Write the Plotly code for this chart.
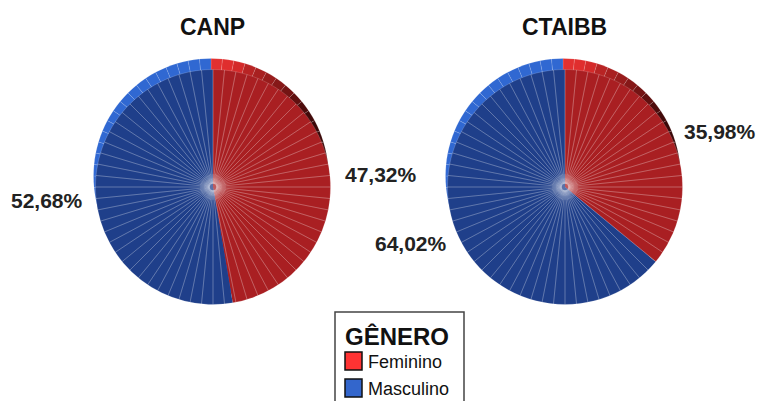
import plotly.graph_objects as go

# Data
charts = ["CANP", "CTAIBB"]
genders = ["Feminino", "Masculino"]
feminino = [47.32, 35.98]
masculino = [52.68, 64.02]

# Style
W, H = 758, 401
FONT = "Liberation Sans"
FACE_COLORS = ["#A91F22", "#1F3F8A"]
LEGEND_COLORS = ["#FF3333", "#3366CC"]
RIM_BLUE = "#3068D2"
RIM_RED = ["#E23030", "#E02E2E", "#D42A2A", "#B82424", "#A82020", "#981C1C", "#861818",
           "#741414", "#601010", "#4E0C0C", "#420A0A", "#3A0808"]
FACETS = 64
centers = [(213, 187), (565, 187)]
RADIUS = 117.5
RIM_SHIFT = (-2, -11)
GLOW_RADII = [5, 9, 13]
label_xy = [[(381, 174), (47, 200)], [(720, 131), (411, 244)]]
title_y = 27
legend_box = (335, 312, 464, 412)
legend_title_xy = (397, 336)
legend_rows = [(345, 352, 362, 370), (345, 379, 362, 397)]


def domain(cx, cy, r):
    return dict(x=[(cx - r) / W, (cx + r) / W], y=[1 - (cy + r) / H, 1 - (cy - r) / H])


def pct(v):
    return f"{v:.2f}".replace(".", ",") + "%"


def px_text(fig, x, y, text, size, color="#111111", anchor="center"):
    fig.add_annotation(x=x / W, y=1 - y / H, xref="paper", yref="paper", text=text, xanchor=anchor,
                       yanchor="middle", showarrow=False, font=dict(family=FONT, size=size, color=color))


def px_rect(fig, box, fill, line, width):
    x0, y0, x1, y1 = box
    fig.add_shape(type="rect", xref="paper", yref="paper", x0=x0 / W, x1=x1 / W, y0=1 - y0 / H, y1=1 - y1 / H,
                  fillcolor=fill, line=dict(color=line, width=width))


fig = go.Figure()
common = dict(sort=False, direction="clockwise", rotation=0, textinfo="none",
              hoverinfo="skip", showlegend=False)

for i, name in enumerate(charts):
    cx, cy = centers[i]
    n_red = round(feminino[i] / 100 * FACETS)
    rim_colors = [RIM_RED[min(k, len(RIM_RED) - 1)] for k in range(n_red)] + [RIM_BLUE] * (FACETS - n_red)
    fig.add_trace(go.Pie(values=[1] * FACETS, domain=domain(cx + RIM_SHIFT[0], cy + RIM_SHIFT[1], RADIUS),
                         marker=dict(colors=rim_colors, line=dict(color="rgba(255,255,255,0.22)", width=0.6)),
                         **common))
    fig.add_trace(go.Pie(labels=genders, values=[feminino[i], masculino[i]], domain=domain(cx, cy, RADIUS),
                         marker=dict(colors=FACE_COLORS, line=dict(width=0)), **common))
    fig.add_trace(go.Pie(values=[1] * FACETS, domain=domain(cx, cy, RADIUS), hole=0.03,
                         marker=dict(colors=["rgba(0,0,0,0)"] * FACETS,
                                     line=dict(color="rgba(255,255,255,0.27)", width=0.6)),
                         **common))
    # soft pale glow where the facets meet
    for r in GLOW_RADII:
        fig.add_trace(go.Pie(values=[1], domain=domain(cx, cy, r),
                             marker=dict(colors=["rgba(255,255,255,0.1)"], line=dict(width=0)), **common))
    px_text(fig, cx - 1, title_y, f"<b>{name}</b>", 23)
    for v, (lx, ly) in zip((feminino[i], masculino[i]), label_xy[i]):
        px_text(fig, lx, ly, f"<b>{pct(v)}</b>", 21, "#222222")

# legend drawn as a box, swatches and text
px_rect(fig, legend_box, "white", "#444444", 1.5)
px_text(fig, *legend_title_xy, "<b>GÊNERO</b>", 24)
for g, c, box in zip(genders, LEGEND_COLORS, legend_rows):
    px_rect(fig, box, c, "#111111", 1.5)
    px_text(fig, box[2] + 4, (box[1] + box[3]) / 2 + 1, g, 18, anchor="left")

fig.update_layout(
    width=W, height=H, margin=dict(l=0, r=0, t=0, b=0, autoexpand=False), paper_bgcolor="white",
    showlegend=False,
)
fig.write_html("out.html", config={"displayModeBar": False}, post_script="document.body.style.margin='0';")
